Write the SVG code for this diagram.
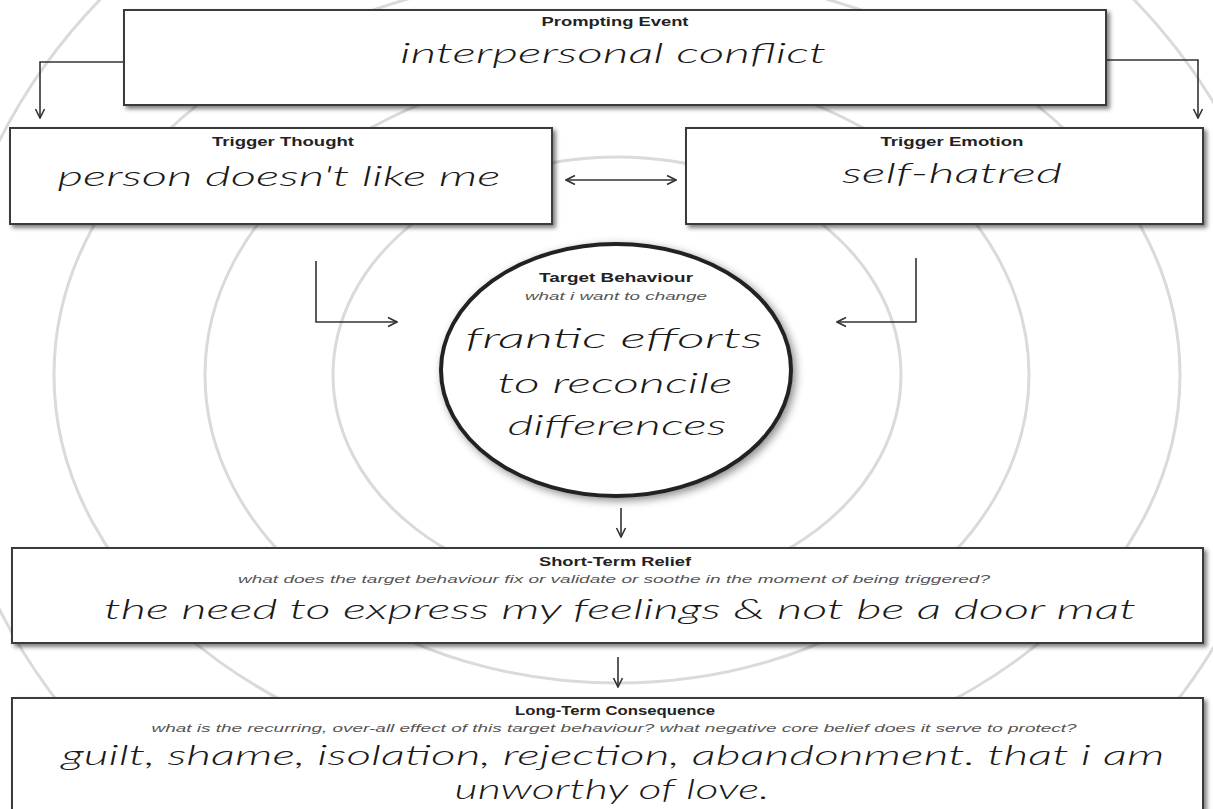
<svg xmlns="http://www.w3.org/2000/svg" width="1213" height="809" viewBox="0 0 1213 809">
<defs>
<style>
.bg{fill:none;stroke:#dadada;stroke-width:3}
.box{fill:#fff;stroke:#3a3a3a;stroke-width:2;filter:url(#sh)}
.lbl{font-family:"Liberation Sans",Arial,sans-serif;font-weight:bold;font-size:12px;fill:#222;text-anchor:middle}
.sub{font-family:"Liberation Sans",Arial,sans-serif;font-style:italic;font-size:11px;fill:#555;text-anchor:middle}
.hand{font-family:"Lato","Open Sans",sans-serif;font-weight:300;font-style:italic;font-size:27px;fill:#1a1a1a;text-anchor:middle}
.con{fill:none;stroke:#333;stroke-width:1.6}
</style>
<filter id="sh" x="-5%" y="-20%" width="112%" height="150%">
<feDropShadow dx="3" dy="3" stdDeviation="2" flood-color="#000" flood-opacity="0.5"/>
</filter>
<filter id="csh" x="-10%" y="-10%" width="125%" height="125%">
<feDropShadow dx="3" dy="3" stdDeviation="4" flood-color="#000" flood-opacity="0.45"/>
</filter>
<marker id="ah" viewBox="0 0 12 12" refX="11" refY="6" markerWidth="12" markerHeight="12" markerUnits="userSpaceOnUse" orient="auto-start-reverse">
<path d="M2,1.5 L11,6 L2,10.5" fill="none" stroke="#333" stroke-width="1.6"/>
</marker>
</defs>
<rect width="1213" height="809" fill="#fff"/>
<g id="background">
<ellipse class="bg" cx="617" cy="375" rx="284" ry="218"/>
<ellipse class="bg" cx="617" cy="375" rx="412" ry="308"/>
<ellipse class="bg" cx="617" cy="375" rx="563" ry="405"/>
<ellipse class="bg" cx="617" cy="375" rx="674" ry="585"/>
</g>
<g id="connectors">
<polyline class="con" points="124,62 40,62 40,118" marker-end="url(#ah)"/>
<polyline class="con" points="1106,60 1198,60 1198,118" marker-end="url(#ah)"/>
<line class="con" x1="566" y1="180" x2="676" y2="180" marker-start="url(#ah)" marker-end="url(#ah)"/>
<polyline class="con" points="316,261 316,322 397,322" marker-end="url(#ah)"/>
<polyline class="con" points="916,258 916,322 837,322" marker-end="url(#ah)"/>
<line class="con" x1="621" y1="508" x2="621" y2="537" marker-end="url(#ah)"/>
<line class="con" x1="618" y1="657" x2="618" y2="687" marker-end="url(#ah)"/>
</g>
<g id="prompting-event">
<rect class="box" x="124" y="10" width="982" height="95"/>
<text class="lbl" x="615" y="26" textLength="147" lengthAdjust="spacingAndGlyphs">Prompting Event</text>
<text class="hand" x="613" y="63" textLength="426" lengthAdjust="spacingAndGlyphs">interpersonal conflict</text>
</g>
<g id="trigger-thought">
<rect class="box" x="10" y="128" width="542" height="96"/>
<text class="lbl" x="283" y="146" textLength="142" lengthAdjust="spacingAndGlyphs">Trigger Thought</text>
<text class="hand" x="279" y="186" textLength="443" lengthAdjust="spacingAndGlyphs">person doesn't like me</text>
</g>
<g id="trigger-emotion">
<rect class="box" x="686" y="128" width="517" height="96"/>
<text class="lbl" x="952" y="146" textLength="143" lengthAdjust="spacingAndGlyphs">Trigger Emotion</text>
<text class="hand" x="952" y="183" textLength="220" lengthAdjust="spacingAndGlyphs">self-hatred</text>
</g>
<g id="target-behaviour">
<ellipse cx="616" cy="370" rx="175" ry="126" fill="#fff" stroke="#222" stroke-width="4" filter="url(#csh)"/>
<text class="lbl" x="616" y="282" textLength="154" lengthAdjust="spacingAndGlyphs">Target Behaviour</text>
<text class="sub" x="616" y="300" textLength="182" lengthAdjust="spacingAndGlyphs">what i want to change</text>
<text class="hand" x="614" y="348" textLength="297" lengthAdjust="spacingAndGlyphs">frantic efforts</text>
<text class="hand" x="615" y="393" textLength="235" lengthAdjust="spacingAndGlyphs">to reconcile</text>
<text class="hand" x="617" y="435" textLength="219" lengthAdjust="spacingAndGlyphs">differences</text>
</g>
<g id="short-term-relief">
<rect class="box" x="12" y="548" width="1191" height="95"/>
<text class="lbl" x="615" y="566" textLength="152" lengthAdjust="spacingAndGlyphs">Short-Term Relief</text>
<text class="sub" x="614" y="583" textLength="752" lengthAdjust="spacingAndGlyphs">what does the target behaviour fix or validate or soothe in the moment of being triggered?</text>
<text class="hand" x="620" y="619" textLength="1032" lengthAdjust="spacingAndGlyphs">the need to express my feelings &amp; not be a door mat</text>
</g>
<g id="long-term-consequence">
<rect class="box" x="12" y="698" width="1191" height="116"/>
<text class="lbl" x="615" y="715" textLength="200" lengthAdjust="spacingAndGlyphs">Long-Term Consequence</text>
<text class="sub" x="614" y="732" textLength="925" lengthAdjust="spacingAndGlyphs">what is the recurring, over-all effect of this target behaviour? what negative core belief does it serve to protect?</text>
<text class="hand" x="613" y="765" textLength="1103" lengthAdjust="spacingAndGlyphs">guilt, shame, isolation, rejection, abandonment. that i am</text>
<text class="hand" x="612" y="799" textLength="315" lengthAdjust="spacingAndGlyphs">unworthy of love.</text>
</g>
</svg>
